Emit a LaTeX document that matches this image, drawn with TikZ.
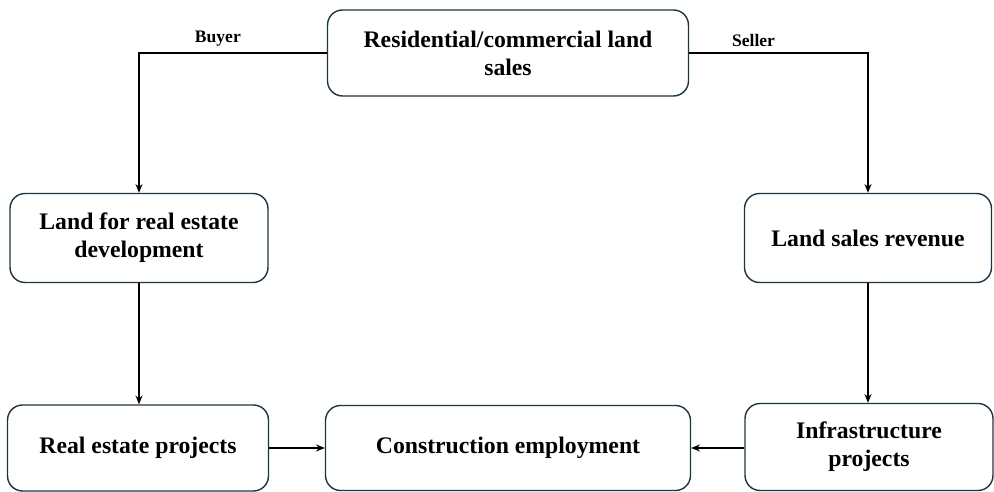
\documentclass[tikz,border=0pt]{standalone}
\usepackage{fontspec}
\setmainfont{Liberation Serif}
\usetikzlibrary{arrows.meta}
\definecolor{boxline}{HTML}{1F3442}

\begin{document}
\begin{tikzpicture}
          [x=0.02cm,y=-0.02cm,
           box/.style={rectangle, draw=boxline, rounded corners=0.3cm, line width=0.8pt, align=center, inner sep=0pt, font=\bfseries\fontsize{13.5}{16}\selectfont},
           tag/.style={font=\bfseries\fontsize{10}{12}\selectfont, above},
           link/.style={-{Stealth[length=5pt,width=4pt]}, line width=0.7pt}]
        \useasboundingbox (0,0) rectangle (994,492);
          \node [box, minimum width=7.22cm, minimum height=1.72cm] (sales) at (508,53) {Residential/commercial land\\sales};
          \node [box, minimum width=5.16cm, minimum height=1.78cm] (landdev) at (139,238) {Land for real estate\\development};
          \node [box, minimum width=4.94cm, minimum height=1.78cm] (revenue) at (868,238) {Land sales revenue};
          \node [box, minimum width=5.22cm, minimum height=1.72cm] (realest) at (138,448) {Real estate projects};
          \node [box, minimum width=7.30cm, minimum height=1.70cm] (employ) at (508,448) {Construction employment};
          \node [box, minimum width=4.96cm, minimum height=1.74cm] (infra) at (869,447) {Infrastructure\\projects};
          \draw [link] (sales.west) -| node [tag, pos=0.29] (buyer) {Buyer} (landdev.north);
          \draw [link] (sales.east) -| node [tag, pos=0.18] (seller) {Seller} (revenue.north);
          \draw [link] (landdev.south) -- (landdev.south |- realest.north);
          \draw [link] (revenue.south) -- (revenue.south |- infra.north);
          \draw [link] (realest.east) -- (realest.east -| employ.west);
          \draw [link] (infra.west |- employ.east) -- (employ.east);
        \end{tikzpicture}
\end{document}
